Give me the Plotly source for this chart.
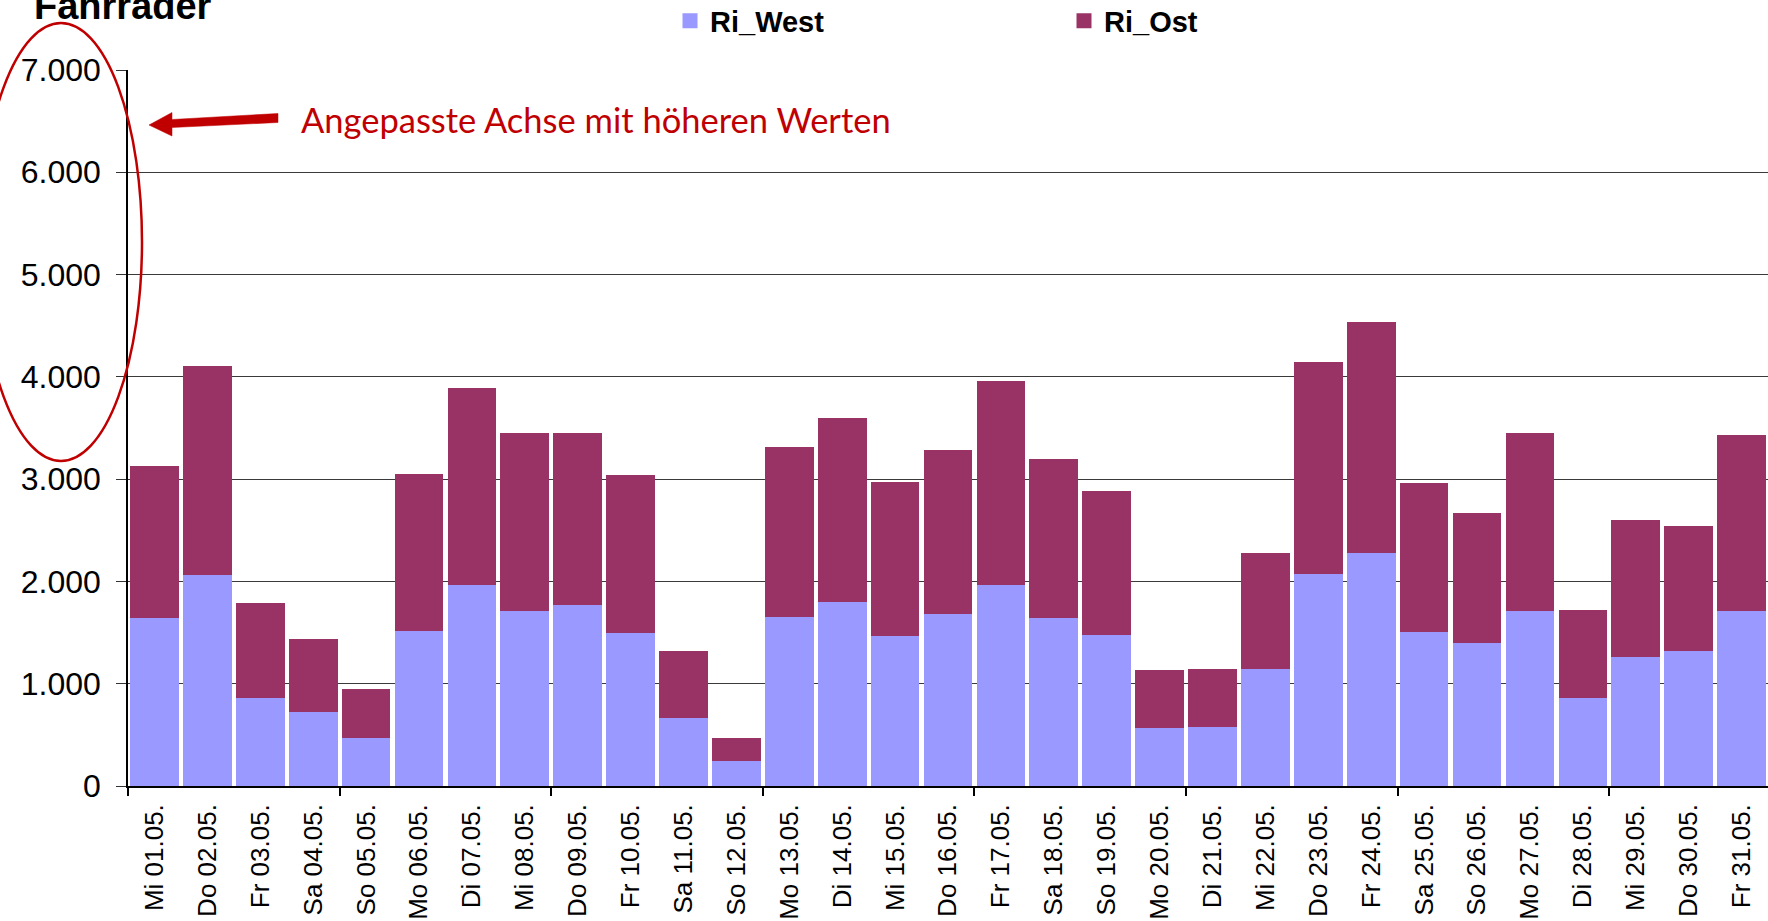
import plotly.graph_objects as go

days = ["Mi 01.05.", "Do 02.05.", "Fr 03.05.", "Sa 04.05.", "So 05.05.", "Mo 06.05.",
        "Di 07.05.", "Mi 08.05.", "Do 09.05.", "Fr 10.05.", "Sa 11.05.", "So 12.05.",
        "Mo 13.05.", "Di 14.05.", "Mi 15.05.", "Do 16.05.", "Fr 17.05.", "Sa 18.05.",
        "So 19.05.", "Mo 20.05.", "Di 21.05.", "Mi 22.05.", "Do 23.05.", "Fr 24.05.",
        "Sa 25.05.", "So 26.05.", "Mo 27.05.", "Di 28.05.", "Mi 29.05.", "Do 30.05.",
        "Fr 31.05."]
ri_west = [1645, 2065, 863, 726, 469, 1518, 1967, 1713, 1765, 1498, 661, 241,
           1651, 1795, 1463, 1684, 1967, 1645, 1479, 567, 573, 1147, 2072, 2277,
           1502, 1397, 1710, 863, 1264, 1322, 1713]
ri_ost = [1485, 2039, 925, 710, 476, 1537, 1926, 1737, 1685, 1541, 658, 228,
          1665, 1804, 1514, 1603, 1994, 1554, 1404, 570, 570, 1130, 2078, 2264,
          1459, 1274, 1740, 854, 1335, 1222, 1717]
y_ticks = [0, 1000, 2000, 3000, 4000, 5000, 6000, 7000]
boundary_ticks = [-0.5, 3.5, 7.5, 11.5, 15.5, 19.5, 23.5, 27.5]

W_FIG, H_FIG = 1768, 921
L, R, T, B = 128, 0, 70, 135
PW = W_FIG - L - R
PH = H_FIG - T - B


def px(x):
    return (x - L) / PW


def py(y):
    return (H_FIG - B - y) / PH


ARIAL = "Arial, Liberation Sans, sans-serif"
RED = "#C00000"
WEST_COLOR = "#9999FF"
OST_COLOR = "#993366"

fig = go.Figure()
fig.add_trace(go.Bar(x=days, y=ri_west, name="Ri_West", showlegend=False,
                     marker=dict(color=WEST_COLOR, line=dict(width=0))))
fig.add_trace(go.Bar(x=days, y=ri_ost, name="Ri_Ost", showlegend=False,
                     marker=dict(color=OST_COLOR, line=dict(width=0))))
# legend entries with larger square symbols
for nm, col in (("Ri_West", WEST_COLOR), ("Ri_Ost", OST_COLOR)):
    fig.add_trace(go.Scatter(x=[None], y=[None], mode="markers", name=nm,
                             marker=dict(symbol="square", size=15, color=col),
                             hoverinfo="skip"))
# helper trace so that the boundary tick axis is drawn
fig.add_trace(go.Scatter(x=[], y=[], xaxis="x2", showlegend=False, hoverinfo="skip"))

fig.update_layout(
    width=W_FIG, height=H_FIG,
    margin=dict(l=L, r=R, t=T, b=B, autoexpand=False),
    paper_bgcolor="white", plot_bgcolor="white",
    barmode="stack", bargap=0.08,
    separators=",.",
    font=dict(family=ARIAL, color="black"),
    showlegend=True,
    legend=dict(orientation="h", x=px(670), xanchor="left", y=py(21), yanchor="middle",
                font=dict(family=ARIAL, size=29, color="black", weight="bold"),
                entrywidth=349, entrywidthmode="pixels", traceorder="normal",
                bgcolor="rgba(0,0,0,0)", itemclick=False),
    xaxis=dict(type="category", range=[-0.5, 30.5], ticks="", showline=True,
               linecolor="black", linewidth=1.5, tickangle=-90,
               tickfont=dict(family=ARIAL, size=26, color="black"),
               ticklabelstandoff=6, showgrid=False, zeroline=False),
    xaxis2=dict(overlaying="x", anchor="y", side="bottom", range=[-0.5, 30.5],
                tickmode="array", tickvals=boundary_ticks, ticks="outside", ticklen=9,
                tickwidth=1.5, tickcolor="black", showticklabels=False,
                showgrid=False, zeroline=False, showline=False),
    yaxis=dict(range=[0, 7000], tickmode="array", tickvals=y_ticks, tickformat=",d",
               ticks="outside", ticklen=10, tickwidth=1.2, tickcolor="#333",
               showline=True, linecolor="black", linewidth=1.5,
               showgrid=True, gridcolor="#3a3a3a", gridwidth=1.2, zeroline=False,
               tickfont=dict(family=ARIAL, size=32, color="black"),
               ticklabelstandoff=9),
)

# chart title (y axis caption) at the top left
fig.add_annotation(text="<b>Fahrräder</b>", xref="paper", yref="paper",
                   x=px(32), y=py(29), xanchor="left", yanchor="bottom",
                   showarrow=False, font=dict(family=ARIAL, size=38, color="black"))

# red comment text
fig.add_annotation(text="Angepasste Achse mit höheren Werten", xref="paper", yref="paper",
                   x=px(299), y=py(119), xanchor="left", yanchor="middle",
                   showarrow=False, font=dict(family="Lato, Noto Sans, sans-serif",
                                              size=34.5, color=RED))

# red ellipse around the y axis labels
fig.add_shape(type="circle", xref="paper", yref="paper",
              x0=px(-20), x1=px(142), y0=py(461), y1=py(23),
              line=dict(color=RED, width=2.5), fillcolor="rgba(0,0,0,0)", layer="above")

# red arrow pointing to the axis
arrow_pts = [(278, 113.5), (172, 119.5), (172, 112.5), (149, 125), (172, 136),
             (172, 127.5), (278, 122.5)]
path = "M " + " L ".join(f"{px(x):.5f},{py(y):.5f}" for x, y in arrow_pts) + " Z"
fig.add_shape(type="path", xref="paper", yref="paper", path=path,
              fillcolor=RED, line=dict(color=RED, width=0.5), layer="above")

fig.write_html("out.html", config={"displayModeBar": False},
               post_script="document.body.style.margin='0';"
                           "document.body.style.padding='0';"
                           "document.body.style.overflow='hidden';")
